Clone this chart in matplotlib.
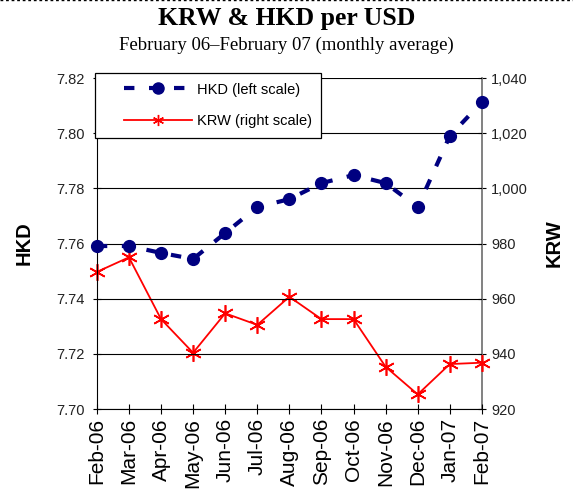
import numpy as np
import matplotlib
matplotlib.use("Agg")
import matplotlib.pyplot as plt
from matplotlib.lines import Line2D
from matplotlib.legend_handler import HandlerLine2D
from matplotlib.ticker import FuncFormatter

## monthly averages
months = ["Feb-06", "Mar-06", "Apr-06", "May-06", "Jun-06", "Jul-06", "Aug-06",
          "Sep-06", "Oct-06", "Nov-06", "Dec-06", "Jan-07", "Feb-07"]
hkd = [7.7591, 7.7591, 7.7566, 7.7544, 7.7638, 7.7732, 7.7761,
       7.7819, 7.7848, 7.7819, 7.7732, 7.7990, 7.8113]
krw = [969.7, 975.0, 952.6, 940.4, 954.7, 950.5, 960.7,
       952.6, 952.6, 935.3, 925.3, 936.3, 936.8]

hkd_ticks = [7.70, 7.72, 7.74, 7.76, 7.78, 7.80, 7.82]
krw_ticks = [920, 940, 960, 980, 1000, 1020, 1040]

plt.rcParams['font.family'] = ['Liberation Sans', 'DejaVu Sans']


class PadHandler(HandlerLine2D):
    '''legend line that leaves some blank room on its left'''
    pad = 14

    def create_artists(self, legend, orig_handle, xdescent, ydescent,
                       width, height, fontsize, trans):
        return super().create_artists(legend, orig_handle, xdescent - self.pad,
                                      ydescent, width - self.pad, height,
                                      fontsize, trans)


fig = plt.figure(figsize=(5.73, 4.97), dpi=100)
ax = fig.add_axes([0.169, 0.177, 0.672, 0.666])
ax2 = ax.twinx()

x = np.arange(len(months))

# KRW on the right scale (drawn first so HKD sits on top)
ax2.plot(x, krw, color="red", lw=1.3, marker=(6, 2, 0), markersize=12,
         markeredgewidth=1.2, clip_on=False, zorder=3)
ax2.set_ylim(920, 1040)
ax2.set_yticks(krw_ticks)
ax2.yaxis.set_major_formatter(FuncFormatter(lambda v, p: "{:,.0f}".format(v)))
ax2.set_ylabel("KRW", fontsize=14.5, fontweight="bold", labelpad=12)

# HKD on the left scale
ax.plot(x, hkd, color="#000080", lw=3, dashes=(2.5, 3.5), marker="o",
        markersize=8.5, clip_on=False, zorder=4)
ax.set_zorder(ax2.get_zorder() + 1)
ax.patch.set_visible(False)
ax.set_ylim(7.70, 7.82)
ax.set_yticks(hkd_ticks)
ax.yaxis.set_major_formatter(FuncFormatter(lambda v, p: "%.2f" % v))
ax.set_ylabel("HKD", fontsize=14.5, fontweight="bold", labelpad=16)
ax.set_xlim(0, len(months) - 1)
ax.set_xticks(x)
ax.set_xticklabels(months, rotation=90, fontsize=15)
ax.grid(axis="y", color="black", lw=0.8)
ax.set_axisbelow(True)

for a in (ax, ax2):
    a.spines["top"].set_visible(False)
    a.tick_params(axis="y", labelsize=10.5, direction="inout", length=6,
                  labelcolor="#222222")
ax.tick_params(axis="y", pad=6)
ax.tick_params(axis="x", direction="inout", length=7, pad=3)
ax2.spines["left"].set_visible(False)
ax2.spines["bottom"].set_visible(False)
ax.spines["right"].set_visible(False)
ax2.spines["right"].set_color("#777777")
ax2.spines["right"].set_linewidth(1.3)

handles = [Line2D([], [], color="#000080", lw=3, dashes=(2.5, 3.5), marker="o", markersize=8),
           Line2D([], [], color="red", lw=1.3, marker=(6, 2, 0), markersize=8)]
leg = ax.legend(handles, ["HKD (left scale)", "KRW (right scale)"],
                loc="upper left", bbox_to_anchor=(-0.005, 1.015), fontsize=10.5,
                handlelength=6.0, labelspacing=1.2, borderpad=0.65,
                handletextpad=0.35, fancybox=False, framealpha=1,
                edgecolor="black", borderaxespad=0,
                handler_map={Line2D: PadHandler()})
leg.get_frame().set_linewidth(0.9)

fig.text(0.5, 0.963, "KRW & HKD per USD", ha="center", va="center",
         fontsize=18.5, fontweight="bold", family="Liberation Serif")
fig.text(0.5, 0.909, "February 06\u2013February 07 (monthly average)",
         ha="center", va="center", fontsize=13.5, family="Liberation Serif")

# dashed page border along the top
fig.add_artist(Line2D([0, 1], [0.999, 0.999], transform=fig.transFigure,
                      color="black", lw=1, dashes=(2, 2)))

fig.savefig("out.png", dpi=100)
